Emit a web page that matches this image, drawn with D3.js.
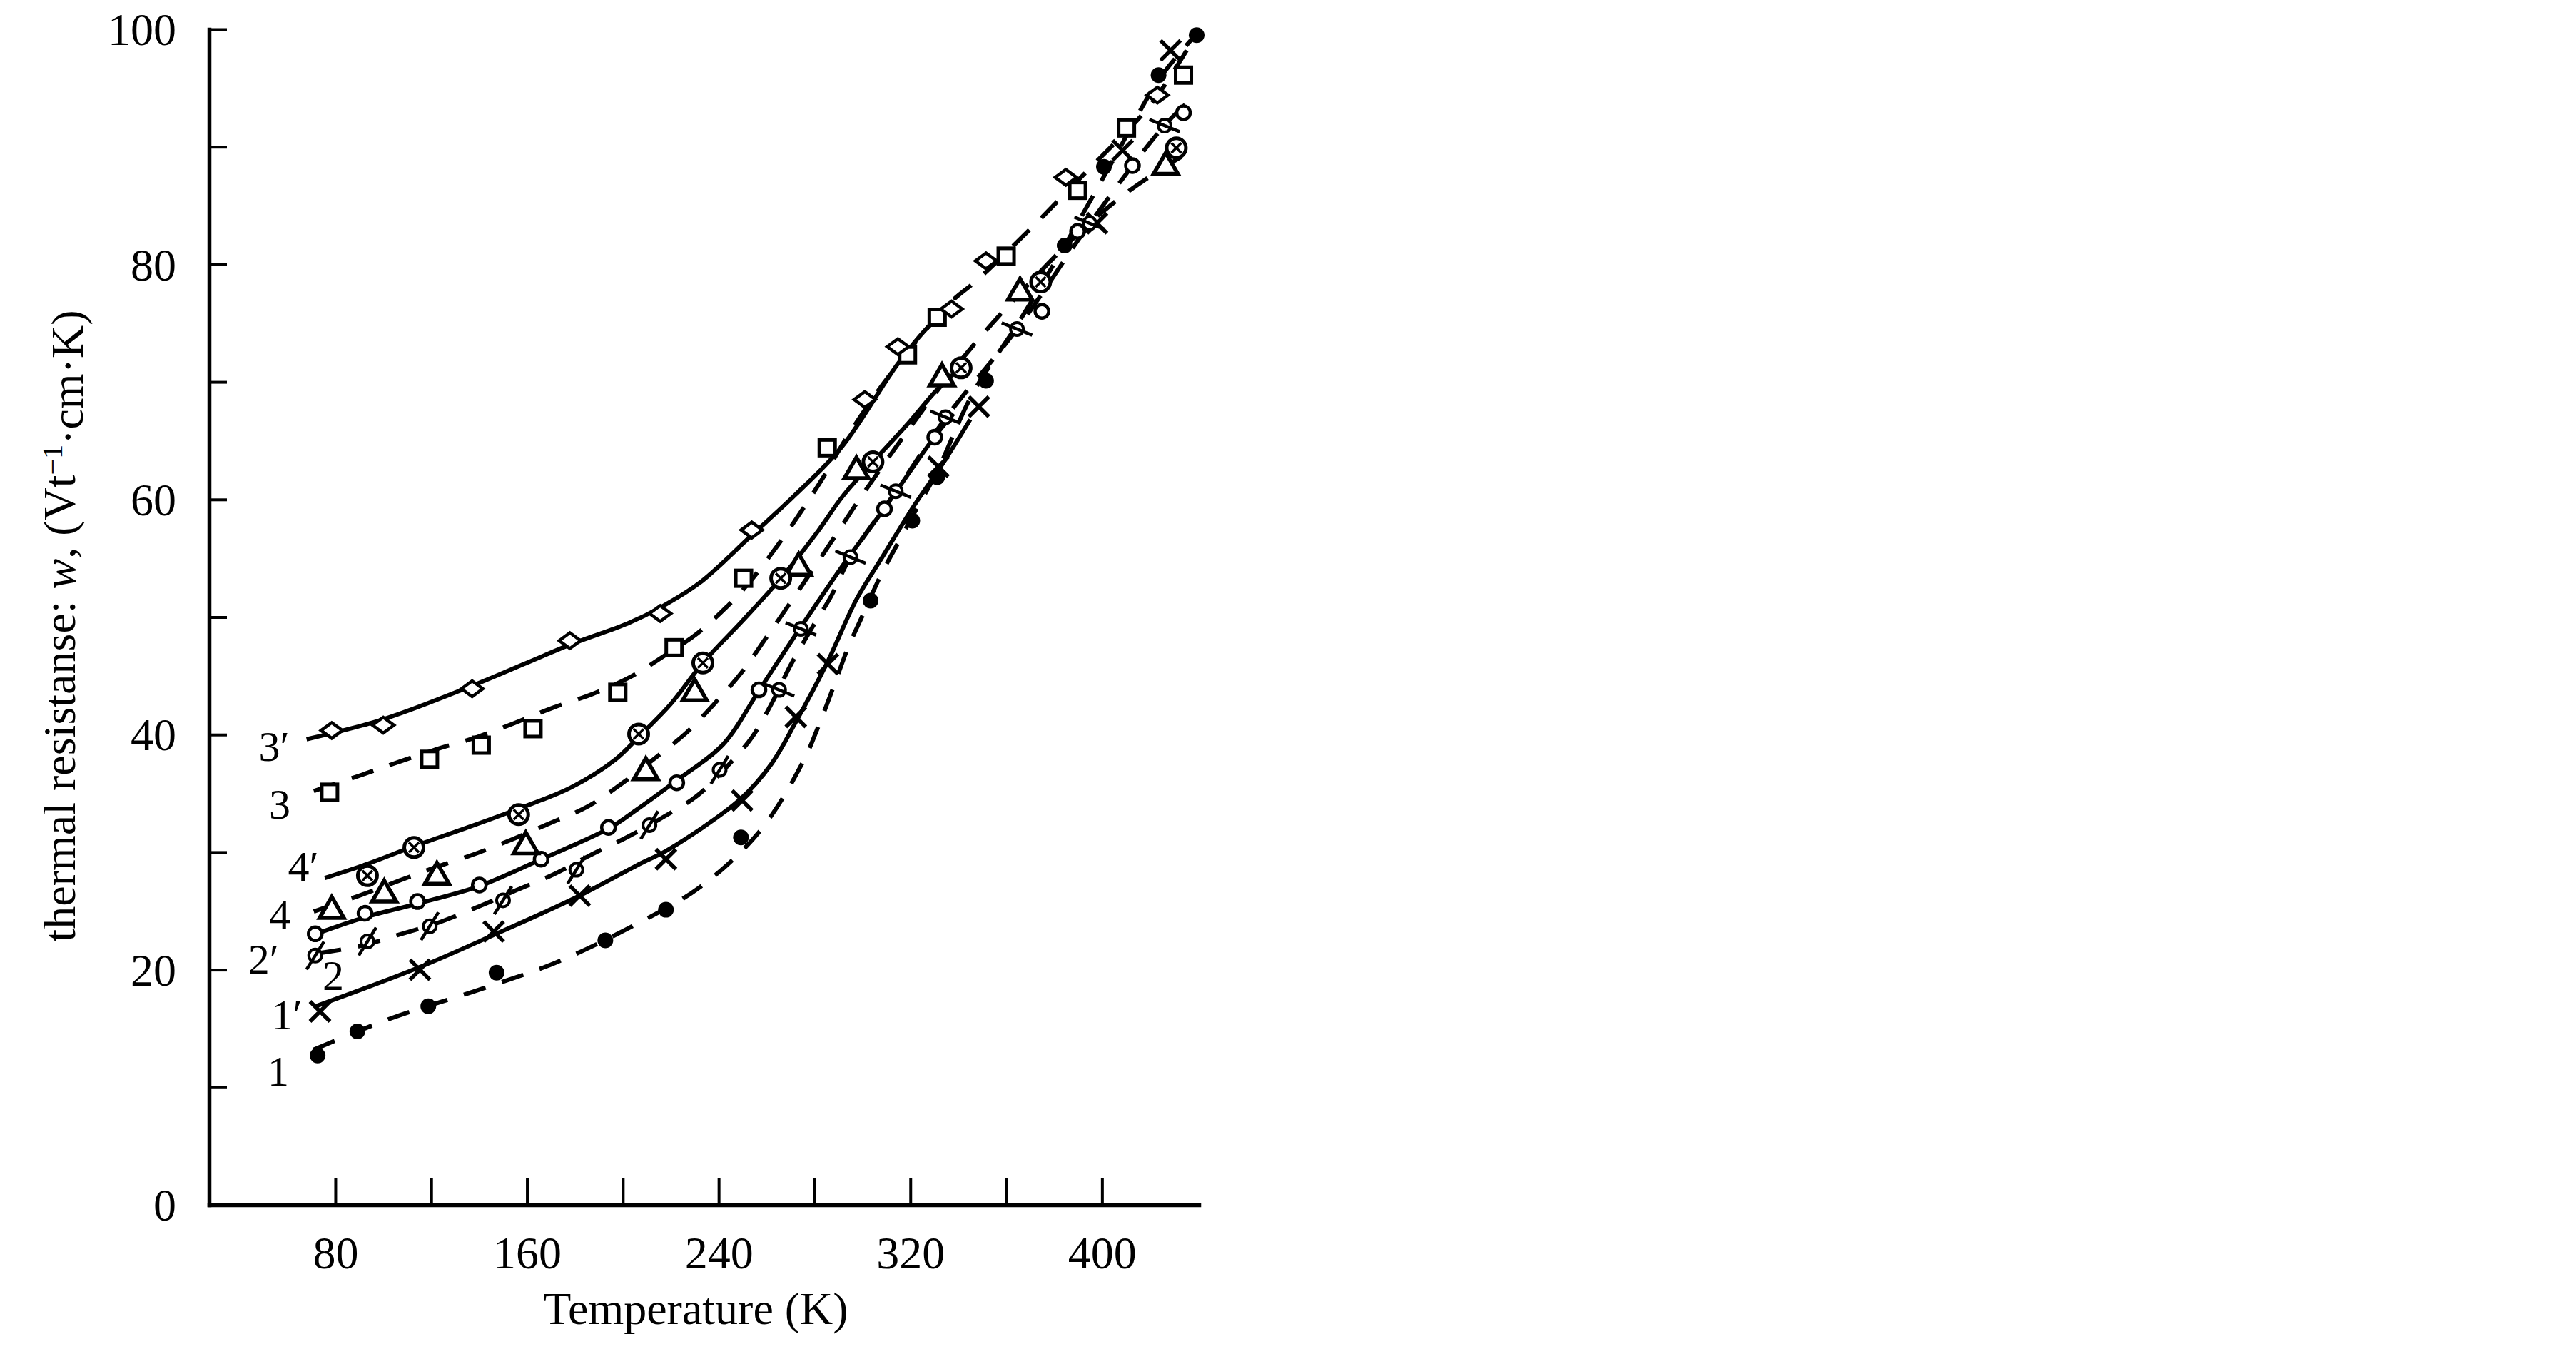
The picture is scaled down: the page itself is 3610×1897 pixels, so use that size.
<!DOCTYPE html>
<html><head><meta charset="utf-8">
<script src="https://cdn.jsdelivr.net/npm/d3@7"></script>
<style>html,body{margin:0;padding:0;background:#fff;} svg{display:block;}</style>
</head><body>
<svg id="chart" width="3610" height="1897"></svg>
<script>
// ---------- axes ----------
const xTicks = [80,120,160,200,240,280,320,360,400];
const xLabels = [80,160,240,320,400];
const yTicks = [0,10,20,30,40,50,60,70,80,90,100];
const yLabels = [0,20,40,60,80,100];

// ---------- measured points [T (K), w] ----------
const pts1  = [[72.6,12.7],[89.2,14.75],[118.8,16.9],[147.3,19.75],[192.7,22.5],[218.0,25.1],[249.3,31.25],[303.4,51.4],[320.8,58.2],[331.2,61.9],[351.6,70.1],[384.4,81.6],[400.8,88.3],[423.6,96.1],[439.5,99.5]];
const pts1p = [[73.6,16.45],[115.3,20.0],[146.1,23.25],[182.0,26.3],[218.0,29.4],[249.8,34.4],[272.2,41.5],[285.6,46.0],[331.7,62.8],[348.6,67.9],[397.9,83.5],[408.6,89.7],[428.6,98.2]];
const pts2  = [[71.6,21.2],[93.4,22.4],[119.4,23.7],[150.0,25.9],[180.6,28.5],[211.1,32.3],[240.4,37.0],[265.2,43.8],[274.3,49.0],[295.0,55.1],[313.9,60.7],[334.7,67.0],[364.5,74.5],[394.8,83.5],[426.1,91.8]];
const pts2p = [[71.6,23.05],[92.4,24.8],[114.3,25.8],[140.1,27.2],[165.9,29.4],[194.0,32.1],[222.5,35.9],[256.8,43.8],[309.2,59.2],[330.2,65.3],[374.9,76.0],[389.8,82.8],[412.7,88.4],[434.0,92.9]];
const pts3  = [[77.6,35.1],[119.3,37.9],[140.9,39.1],[162.5,40.5],[197.9,43.6],[221.4,47.4],[250.4,53.3],[285.3,64.4],[318.8,72.3],[331.2,75.5],[360.0,80.7],[389.8,86.3],[410.2,91.6],[434.0,96.1]];
const pts3p = [[78.5,40.35],[100.0,40.8],[137.1,43.9],[177.9,48.0],[215.6,50.3],[253.8,57.4],[301.0,68.5],[314.8,73.0],[337.2,76.2],[351.6,80.3],[384.9,87.4],[423.1,94.4]];
const pts4  = [[78.5,25.0],[100.4,26.4],[122.4,27.9],[159.5,30.5],[209.6,36.8],[230.0,43.5],[273.4,54.2],[297.5,62.4],[333.2,70.3],[365.8,77.6],[426.6,88.3]];
const pts4p = [[93.4,28.0],[112.8,30.4],[156.5,33.2],[206.6,40.05],[233.4,46.1],[265.9,53.3],[304.4,63.2],[341.2,71.2],[374.4,78.5],[431.0,89.9]];

// ---------- fitted curves [T (K), w] ----------
const fit1  = [[71,13.2],[103,15.85],[140,18.3],[172,20.6],[203,23.6],[232,27.0],[257,31.75],[275,37.6],[282,40.9],[288,44.1],[294,47.4],[300,50.1],[308,53.7],[315.4,56.5],[323.4,59.5],[331,62.3],[346,69.0],[365,75.0],[385,81.8],[405,89.0],[424,95.8],[439,99.5]];
const fit1p = [[72,16.9],[115,20.2],[146,22.95],[181,26.2],[208,29.1],[218,30.1],[249,34.5],[262,37.5],[272,41.0],[285,46.0],[297.5,51.5],[308,55.0],[321,59.3],[334,63.2],[345,66.8]];
const fit2  = [[73,21.4],[90,22.0],[107,23.0],[123,24.0],[139,25.3],[156,26.8],[171,28.1],[186,29.7],[202,31.3],[217,33.0],[231,34.8],[244,37.4],[254,39.8],[262,42.6],[270,45.9],[279,49.1],[287,51.8],[295,55.1],[314,60.7],[335,67.0],[364.5,74.5],[395,83.5],[426,91.8],[438,94.2]];
const fit2p = [[72,23.05],[93,24.5],[114,25.6],[140,27.1],[166,29.4],[194,32.0],[205,33.5],[222.5,36.1],[242,39.2],[257,43.8],[272,48.45],[291.5,54.3],[309,59.2],[330,65.3],[338,67.3]];
const fit3  = [[71,35.2],[90.7,36.55],[106.8,37.7],[123,38.8],[139.3,39.8],[155,41.0],[171,42.3],[188,43.5],[204,45.0],[216.5,46.6],[231,48.6],[244,51.0],[253,53.0],[265,56.2],[274.5,59.0],[284,62.0],[292,64.8],[305,68.8],[316,71.8],[328,74.8],[338,77.0],[347.5,78.6],[371,83.2],[384,85.9],[396,88.4],[417.5,92.9],[426,95.2],[436.5,98.6]];
const fit3p = [[68,39.6],[100,41.3],[136.5,44.1],[178.6,47.7],[202,49.45],[216,50.85],[232,52.9],[254,57.0],[272,60.4],[291.5,64.5],[315,71.6],[328,74.8],[337,76.3]];
const fit4  = [[71,24.95],[90,26.3],[107,27.6],[123,28.8],[139,29.9],[154,31.1],[170,32.5],[185.5,33.9],[200,35.9],[215,38.25],[227,40.25],[239,42.8],[250,45.4],[260,48.3],[270,51.25],[289,57.0],[298,59.8],[318,65.6],[334,70.0],[350,74.0],[366,77.6],[390,82.6],[409,85.9],[427,88.4],[437,89.6]];
const fit4p = [[75.6,27.8],[93.4,29.0],[112.8,30.5],[134.5,32.05],[156.5,33.7],[178.3,35.5],[197,37.9],[206.6,39.8],[220,42.6],[233.4,46.1],[250,49.7],[266,53.3],[281.6,57.35],[291.5,60.2],[304.4,63.2],[319.2,66.5],[331,69.3],[341,71.2]];

// ---------- curve labels [text, T, w] ----------
const curveLabels = [["3\u2032",54.4,39.0],["3",56.8,34.1],["4\u2032",66.6,28.8],["4",56.8,24.65],["2\u2032",50.0,20.9],["2",79.1,19.5],["1\u2032",59.8,16.15],["1",56.2,11.35]];

const series = [
  {pts: pts1,  fit: fit1,  dashed: true,  marker: "dot"},
  {pts: pts1p, fit: fit1p, dashed: false, marker: "cross"},
  {pts: pts2,  fit: fit2,  dashed: true,  marker: "slash"},
  {pts: pts2p, fit: fit2p, dashed: false, marker: "circle"},
  {pts: pts4,  fit: fit4,  dashed: true,  marker: "tri"},
  {pts: pts4p, fit: fit4p, dashed: false, marker: "otimes"},
  {pts: pts3,  fit: fit3,  dashed: true,  marker: "square"},
  {pts: pts3p, fit: fit3p, dashed: false, marker: "diamond"}
];

const FONT = "'Liberation Serif','Times New Roman',Times,serif";
const svg = d3.select("#chart");
svg.append("rect").attr("width",3610).attr("height",1897).attr("fill","#fff");

const x = d3.scaleLinear().domain([27.3, 440.4]).range([293, 1680]);
const y = d3.scaleLinear().domain([0, 100]).range([1688, 41]);

// ---------- axes ----------
const gx = svg.append("g").attr("transform", `translate(0,${y(0)})`)
  .call(d3.axisBottom(x).tickValues(xTicks).tickSizeInner(-38).tickSizeOuter(0).tickPadding(44)
    .tickFormat(d => xLabels.includes(d) ? String(d) : ""));
const gy = svg.append("g").attr("transform", `translate(${x.range()[0]},0)`)
  .call(d3.axisLeft(y).tickValues(yTicks).tickSizeInner(-25).tickSizeOuter(0).tickPadding(46)
    .tickFormat(d => yLabels.includes(d) ? String(d) : ""));
[gx, gy].forEach(g => {
  g.attr("font-family", null).attr("font-size", null);
  g.select(".domain").attr("stroke","#000").attr("stroke-width",5.5).attr("stroke-linecap","square");
  g.selectAll(".tick line").attr("stroke","#000").attr("stroke-width",4);
  g.selectAll(".tick text").attr("fill","#000").style("font-family",FONT).style("font-size","64px");
});
gy.selectAll(".tick text").attr("dy","0.34em");

// axis titles
svg.append("text").attr("x", 975).attr("y", 1855).attr("text-anchor","middle")
  .style("font-family",FONT).style("font-size","64px").text("Temperature (K)");
const yt = svg.append("text").attr("transform","translate(105,877) rotate(-90)").attr("text-anchor","middle")
  .style("font-family",FONT).style("font-size","64px");
yt.append("tspan").text("thermal resistanse: ");
yt.append("tspan").style("font-style","italic").text("w");
yt.append("tspan").text(", (Vt");
yt.append("tspan").attr("dy","-0.45em").style("font-size","40px").text("\u22121");
yt.append("tspan").attr("dy","0.45em").text("\u00B7cm\u00B7K)");

// ---------- curves ----------
const line = d3.line().x(d => x(d[0])).y(d => y(d[1])).curve(d3.curveCatmullRom.alpha(0.5));
const gl = svg.append("g");
series.forEach(s => {
  gl.append("path").attr("d", line(s.fit)).attr("fill","none").attr("stroke","#000")
    .attr("stroke-width", 6).attr("stroke-dasharray", s.dashed ? "32 24" : null);
});

// ---------- markers ----------
const gm = svg.append("g");
function marker(type, cx, cy, v) {
  const g = gm.append("g");
  if (type === "dot") {
    g.append("circle").attr("cx",cx).attr("cy",cy).attr("r",11).attr("fill","#000");
  } else if (type === "cross") {
    const s = 14;
    g.append("path").attr("d",`M${cx-s},${cy-s}L${cx+s},${cy+s}M${cx-s},${cy+s}L${cx+s},${cy-s}`)
      .attr("stroke","#000").attr("stroke-width",5.5);
  } else if (type === "circle") {
    g.append("circle").attr("cx",cx).attr("cy",cy).attr("r",9.5).attr("fill","#fff").attr("stroke","#000").attr("stroke-width",4.5);
  } else if (type === "slash") {
    g.append("circle").attr("cx",cx).attr("cy",cy).attr("r",9).attr("fill","#fff").attr("stroke","#000").attr("stroke-width",4);
    const a = (v > 40 ? 22 : -58) * Math.PI / 180, L = 23;
    g.append("line").attr("x1",cx - L*Math.cos(a)).attr("y1",cy - L*Math.sin(a))
      .attr("x2",cx + L*Math.cos(a)).attr("y2",cy + L*Math.sin(a))
      .attr("stroke","#000").attr("stroke-width",4.5);
  } else if (type === "otimes") {
    g.append("circle").attr("cx",cx).attr("cy",cy).attr("r",13.5).attr("fill","#fff").attr("stroke","#000").attr("stroke-width",5);
    const s = 7;
    g.append("path").attr("d",`M${cx-s},${cy-s}L${cx+s},${cy+s}M${cx-s},${cy+s}L${cx+s},${cy-s}`)
      .attr("stroke","#000").attr("stroke-width",3.5);
  } else if (type === "tri") {
    const side = 34, h = side * Math.sqrt(3) / 2;
    g.append("path").attr("d",`M${cx},${cy-2*h/3}L${cx+side/2},${cy+h/3}L${cx-side/2},${cy+h/3}Z`)
      .attr("fill","#fff").attr("stroke","#000").attr("stroke-width",5.5).attr("stroke-linejoin","miter");
  } else if (type === "square") {
    g.append("rect").attr("x",cx-11).attr("y",cy-11).attr("width",22).attr("height",22)
      .attr("fill","#fff").attr("stroke","#000").attr("stroke-width",5);
  } else if (type === "diamond") {
    g.append("path").attr("d",`M${cx-15},${cy}L${cx},${cy-11}L${cx+15},${cy}L${cx},${cy+11}Z`)
      .attr("fill","#fff").attr("stroke","#000").attr("stroke-width",4.5);
  }
}
series.forEach(s => s.pts.forEach(p => marker(s.marker, x(p[0]), y(p[1]), p[1])));

// ---------- curve labels ----------
svg.append("g").selectAll("text").data(curveLabels).join("text")
  .attr("x", d => x(d[1])).attr("y", d => y(d[2])).attr("dy","0.34em").attr("text-anchor","middle")
  .style("font-family",FONT).style("font-size","60px").text(d => d[0]);
</script>
</body></html>
